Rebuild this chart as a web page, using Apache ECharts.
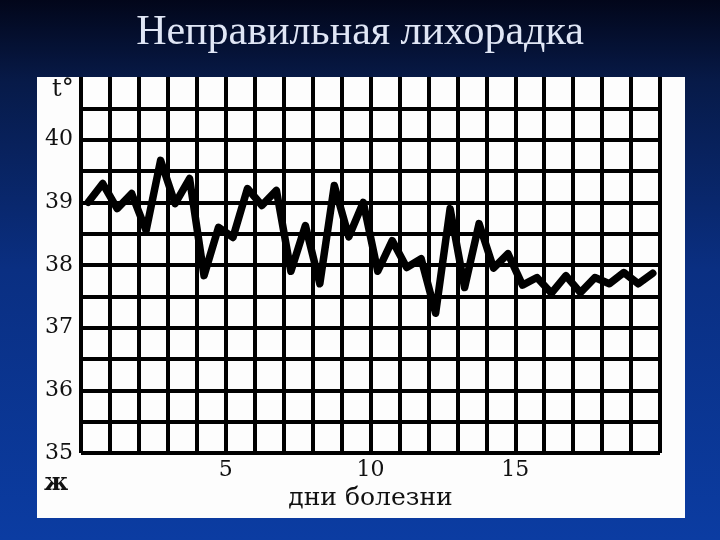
<!DOCTYPE html>
<html>
<head>
<meta charset="utf-8">
<script src="https://cdn.jsdelivr.net/npm/echarts@6/dist/echarts.min.js"></script>
<style>
html,body{margin:0;padding:0;}
#main{width:720px;height:540px;}
</style>
</head>
<body>
<div id="main"></div>
<script>
// temperature read twice a day (morning / evening), days 1..20
var morning = [39.0, 38.9, 38.55, 38.98, 37.83, 38.44, 38.95, 37.9, 37.7, 38.45,
               37.9, 37.96, 37.23, 37.64, 37.95, 37.68, 37.55, 37.56, 37.7, 37.7];
var evening = [39.3, 39.14, 39.67, 39.38, 38.6, 39.22, 39.19, 38.63, 39.27, 39.0,
               38.39, 38.1, 38.9, 38.66, 38.18, 37.8, 37.83, 37.8, 37.88, 37.87];
var days = [1,2,3,4,5,6,7,8,9,10,11,12,13,14,15,16,17,18,19,20];
var xTickLabels = [5, 10, 15];
var yTickLabels = [35, 36, 37, 38, 39, 40];

var points = [];
for (var i = 0; i < days.length; i++) {
	points.push([days[i] - 0.75, morning[i]]);
	points.push([days[i] - 0.25, evening[i]]);
}

var myChart = echarts.init(document.getElementById('main'));
var serif = "'Liberation Serif',serif";
var dserif = "'DejaVu Serif',serif";

option = {
	animation: false,
	title: {
		text: 'Неправильная лихорадка',
		left: 'center',
		top: 7,
		textStyle: {
			fontFamily: serif,
			fontSize: 42,
			fontWeight: 'normal',
			color: '#e0e6f5'
		}
	},
	graphic: [
		{
			type: 'rect', z: -20,
			shape: {x: 0, y: 0, width: 720, height: 540},
			style: {
				fill: new echarts.graphic.LinearGradient(0, 0, 0, 1, [
					{offset: 0, color: '#02061a'},
					{offset: 0.15, color: '#071a48'},
					{offset: 0.5, color: '#0a2f82'},
					{offset: 1, color: '#0b3ca2'}
				])
			}
		},
		{
			type: 'rect', z: -10,
			shape: {x: 37, y: 77, width: 648, height: 441},
			style: {fill: '#fdfdfd'}
		},
		{
			type: 'text', left: 52, top: 78,
			style: {text: 't°', font: '24px ' + dserif, fill: '#111'}
		},
		{
			type: 'text', left: 44, top: 472,
			style: {text: 'ж', font: 'bold 24px ' + dserif, fill: '#111'}
		}
	],
	grid: {left: 81, right: 60, top: 77, bottom: 87},
	xAxis: {
		type: 'value',
		min: 0,
		max: 20,
		interval: 1,
		name: 'дни болезни',
		nameLocation: 'middle',
		nameGap: 30,
		nameTextStyle: {fontFamily: dserif, fontSize: 25, color: '#111'},
		axisLine: {show: false},
		axisTick: {show: false},
		axisLabel: {
			margin: 6,
			fontFamily: dserif,
			fontSize: 22,
			color: '#111',
			formatter: function (v) {
				return xTickLabels.indexOf(v) >= 0 ? String(v) : '';
			}
		},
		splitLine: {show: true, lineStyle: {color: '#000', width: 4}}
	},
	yAxis: {
		type: 'value',
		min: 35,
		max: 41,
		interval: 0.5,
		axisLine: {show: false},
		axisTick: {show: false},
		axisLabel: {
			margin: 8,
			fontFamily: dserif,
			fontSize: 22,
			color: '#111',
			formatter: function (v) {
				return yTickLabels.indexOf(v) >= 0 ? String(v) : '';
			}
		},
		splitLine: {show: true, showMaxLine: false, lineStyle: {color: '#000', width: 4}}
	},
	series: [
		{
			name: 't',
			type: 'line',
			data: points,
			symbol: 'none',
			lineStyle: {color: '#000', width: 7.5, join: 'round', cap: 'round'},
			z: 5
		}
	]
};
myChart.setOption(option);
</script>
</body>
</html>
